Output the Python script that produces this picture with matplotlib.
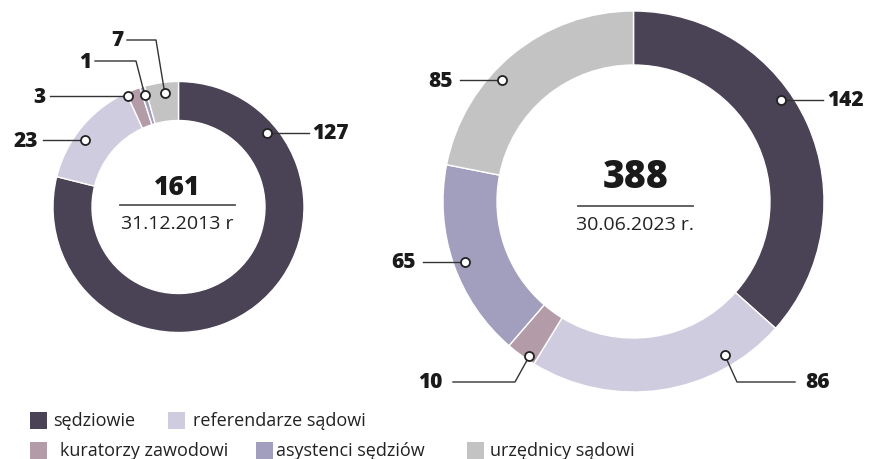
import numpy as np
import matplotlib
matplotlib.use("Agg")
import matplotlib.pyplot as plt
from matplotlib.patches import Rectangle

plt.rcParams['font.family'] = ['Open Sans', 'DejaVu Sans']

# data
categories = ["sędziowie", "referendarze sądowi", "kuratorzy zawodowi",
              "asystenci sędziów", "urzędnicy sądowi"]
colors = ["#4a4255", "#cfcce0", "#b39ca7", "#a29fbe", "#c3c3c3"]

values_2013 = [127, 23, 3, 1, 7]
values_2023 = [142, 86, 10, 65, 85]
total_2013 = 161
total_2023 = 388
date_2013 = "31.12.2013 r"
date_2023 = "30.06.2023 r."

W, H = 872, 460
line_col = "#333333"


def Y(y):
    # image-style y (from top) -> axes y (from bottom)
    return H - y


def donut(ax, values, cx, cy, R, width, labels, fs):
    ax.pie(values, colors=colors, startangle=90, counterclock=False,
           radius=R, center=(cx, Y(cy)),
           wedgeprops=dict(width=width, edgecolor="white", linewidth=1.0))
    total = sum(values)
    cum = np.concatenate([[0], np.cumsum(values)[:-1]])
    for i, v in enumerate(values):
        frac, rf, end_x, text_x, ty, knee = labels[i]
        start = 90 - 360 * cum[i] / total
        ang = np.radians(start - frac * 360 * v / total)
        mx = cx + rf * R * np.cos(ang)
        my = Y(cy) + rf * R * np.sin(ang)
        yy = my if ty is None else Y(ty)
        if knee is None:
            xs, ys = [mx, end_x], [my, yy]
        else:
            xs, ys = [mx, knee, end_x], [my, yy, yy]
        ax.plot(xs, ys, color=line_col, lw=1.0, zorder=3)
        ax.plot(mx, my, 'o', ms=6.5, mfc="white", mec="#222222", mew=1.3, zorder=4)
        ha = "left" if text_x > end_x else "right"
        ax.text(text_x, yy, str(v), ha=ha, va="center", fontsize=fs,
                fontweight="heavy", color="#1a1a1a")


fig = plt.figure(figsize=(W / 100, H / 100), dpi=100)
ax = fig.add_axes([0, 0, 1, 1])

# (fraction along wedge, radius fraction, line end x, text x, text y, knee x)
labels_2013 = [
    (0.176, 0.92, 309, 312, None, None),
    (0.42, 0.915, 43, 38, None, None),
    (0.05, 0.97, 50, 46, None, None),
    (0.5, 0.93, 95, 91, 62, 136),
    (0.56, 0.915, 127, 123, 41, 156),
]
labels_2023 = [
    (0.42, 0.94, 823, 827, None, None),
    (0.22, 0.94, 795, 805, 383, 737),
    (0.26, 0.98, 453, 443, 383, 515),
    (0.49, 0.94, 423, 416, None, None),
    (0.40, 0.94, 460, 453, None, None),
]

donut(ax, values_2013, 178.5, 208, 125.5, 39, labels_2013, 15)
donut(ax, values_2023, 633.5, 202.5, 190.5, 54, labels_2023, 15)

# centre texts
ax.text(177, Y(188), str(total_2013), ha="center", va="center",
        fontsize=19, fontweight="heavy", color="#1a1a1a")
ax.plot([120, 235], [Y(206), Y(206)], color="#555555", lw=1.3)
ax.text(177, Y(224), date_2013, ha="center", va="center",
        fontsize=14, color="#222222")

ax.text(636, Y(178), str(total_2023), ha="center", va="center",
        fontsize=27, fontweight="heavy", color="#1a1a1a")
ax.plot([578, 693], [Y(207), Y(207)], color="#555555", lw=1.3)
ax.text(635, Y(225), date_2023, ha="center", va="center",
        fontsize=14, color="#222222")

# legend drawn by hand: two rows
leg_sq_x = [30, 168, 30, 256, 467]
leg_tx_x = [53, 193, 60, 276, 490]
leg_y = [421, 421, 451, 451, 451]
for name, c, sx, tx, ly in zip(categories, colors, leg_sq_x, leg_tx_x, leg_y):
    ax.add_patch(Rectangle((sx, Y(ly) - 8.5), 17, 17, color=c, lw=0))
    ax.text(tx, Y(ly), name, ha="left", va="center", fontsize=13, color="#222222")

ax.set_xlim(0, W)
ax.set_ylim(0, H)
ax.set_aspect("equal")
ax.axis("off")

fig.savefig("out.png", dpi=100)
